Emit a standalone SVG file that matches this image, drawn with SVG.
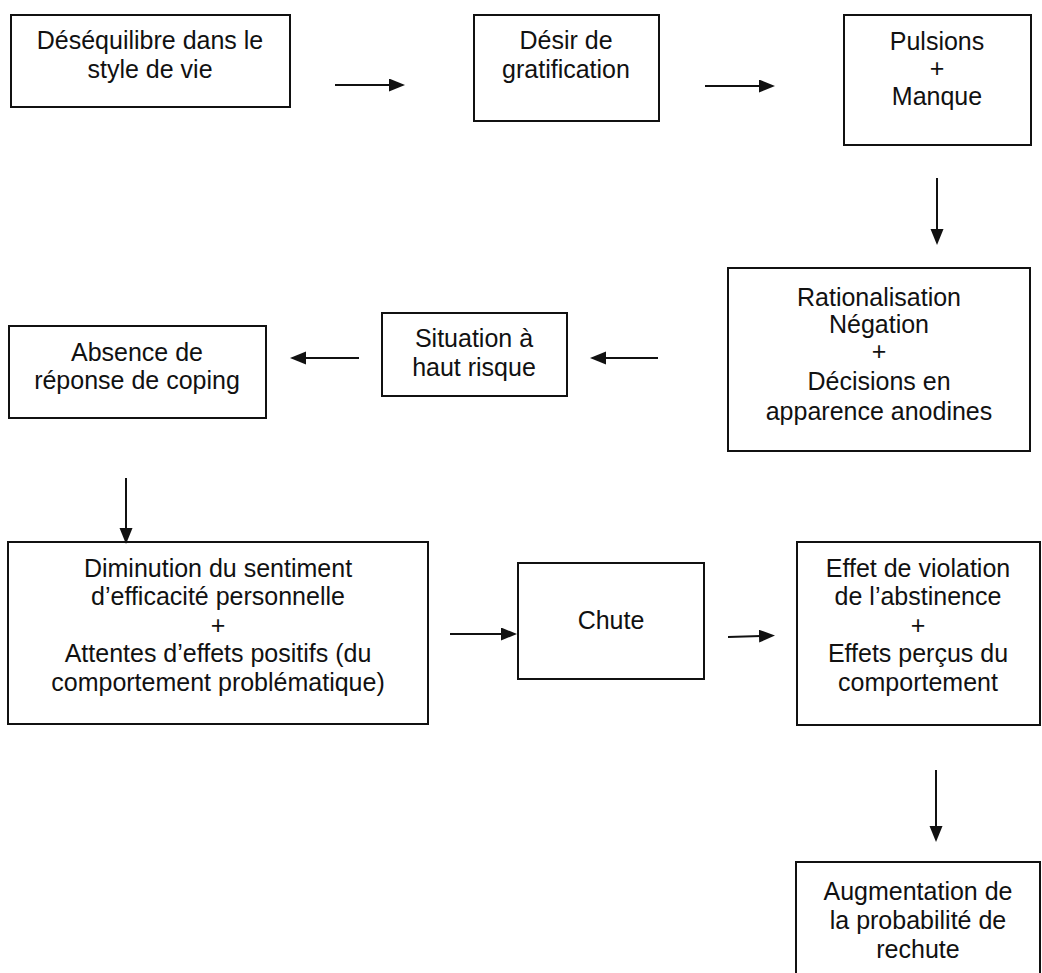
<svg xmlns="http://www.w3.org/2000/svg" width="1042" height="973" viewBox="0 0 1042 973">
<style>
.box{fill:#fff;stroke:#111;stroke-width:2}
.t{font-family:"Liberation Sans",Arial,sans-serif;font-size:25px;fill:#111;text-anchor:middle}
.c{stroke:#111;stroke-width:2;fill:none;marker-end:url(#ah)}
</style>
<defs>
<marker id="ah" markerUnits="userSpaceOnUse" markerWidth="18" markerHeight="15" refX="2" refY="6.5" orient="auto">
<path d="M0,0 L16,6.5 L0,13 z" fill="#111"/>
</marker>
</defs>
<rect width="1042" height="973" fill="#fff"/>
<g id="n1"><rect class="box" x="11" y="15" width="279" height="92"/>
<text class="t" x="150" y="49">Déséquilibre dans le</text>
<text class="t" x="150" y="78">style de vie</text></g>
<g id="n2"><rect class="box" x="474" y="15" width="185" height="106"/>
<text class="t" x="566" y="49">Désir de</text>
<text class="t" x="566" y="78">gratification</text></g>
<g id="n3"><rect class="box" x="844" y="15" width="187" height="130"/>
<text class="t" x="937" y="50">Pulsions</text>
<text class="t" x="937" y="77">+</text>
<text class="t" x="937" y="105">Manque</text></g>
<g id="n4"><rect class="box" x="728" y="268" width="302" height="183"/>
<text class="t" x="879" y="306">Rationalisation</text>
<text class="t" x="879" y="333">Négation</text>
<text class="t" x="879" y="360">+</text>
<text class="t" x="879" y="390">Décisions en</text>
<text class="t" x="879" y="420">apparence anodines</text></g>
<g id="n5"><rect class="box" x="382" y="313" width="185" height="83"/>
<text class="t" x="474" y="347">Situation à</text>
<text class="t" x="474" y="376">haut risque</text></g>
<g id="n6"><rect class="box" x="9" y="326" width="257" height="92"/>
<text class="t" x="137" y="361">Absence de</text>
<text class="t" x="137" y="389">réponse de coping</text></g>
<g id="n7"><rect class="box" x="8" y="542" width="420" height="182"/>
<text class="t" x="218" y="577">Diminution du sentiment</text>
<text class="t" x="218" y="605">d’efficacité personnelle</text>
<text class="t" x="218" y="634">+</text>
<text class="t" x="218" y="662">Attentes d’effets positifs (du</text>
<text class="t" x="218" y="691">comportement problématique)</text></g>
<g id="n8"><rect class="box" x="518" y="563" width="186" height="116"/>
<text class="t" x="611" y="629">Chute</text></g>
<g id="n9"><rect class="box" x="797" y="542" width="243" height="183"/>
<text class="t" x="918" y="577">Effet de violation</text>
<text class="t" x="918" y="605">de l’abstinence</text>
<text class="t" x="918" y="634">+</text>
<text class="t" x="918" y="662">Effets perçus du</text>
<text class="t" x="918" y="691">comportement</text></g>
<g id="n10"><rect class="box" x="796" y="862" width="244" height="130"/>
<text class="t" x="918" y="900">Augmentation de</text>
<text class="t" x="918" y="929">la probabilité de</text>
<text class="t" x="918" y="958">rechute</text></g>
<g id="connectors">
<line class="c" x1="335" y1="85" x2="391" y2="85"/>
<line class="c" x1="705" y1="86" x2="761" y2="86"/>
<line class="c" x1="937" y1="178" x2="937" y2="231"/>
<line class="c" x1="658" y1="358" x2="604" y2="358"/>
<line class="c" x1="359" y1="358" x2="304" y2="358"/>
<line class="c" x1="126" y1="478" x2="126" y2="530"/>
<line class="c" x1="450" y1="634" x2="503" y2="634"/>
<line class="c" x1="728" y1="637" x2="761" y2="636"/>
<line class="c" x1="936" y1="770" x2="936" y2="828"/>
</g>
</svg>
